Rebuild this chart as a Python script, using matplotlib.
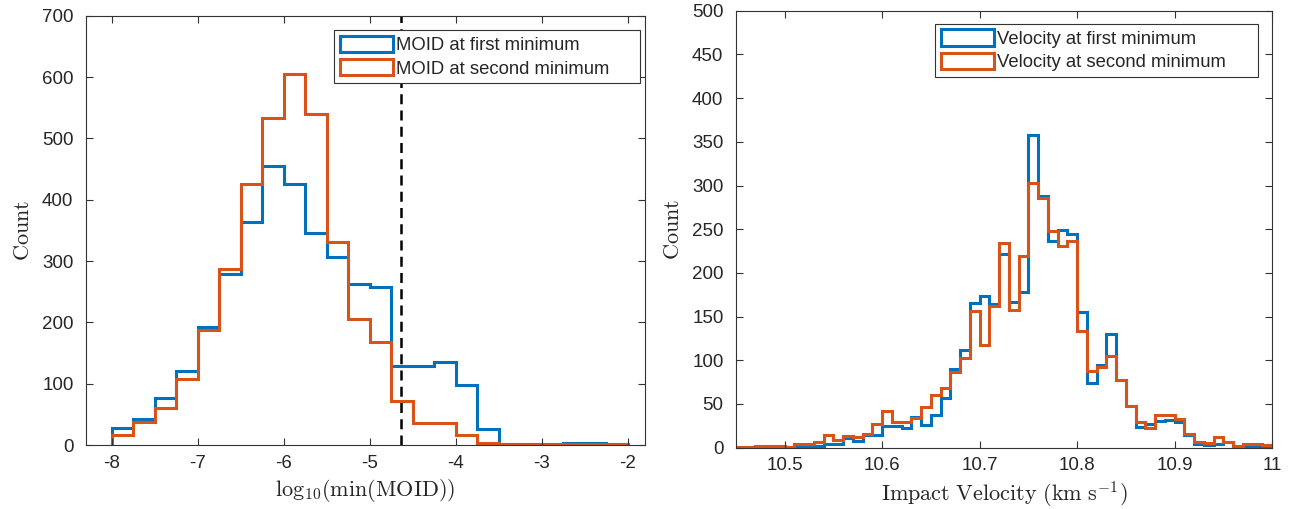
import numpy as np
import matplotlib
matplotlib.use("Agg")
import matplotlib.pyplot as plt
from matplotlib.patches import Patch

plt.rcParams['font.family'] = ['Liberation Sans', 'DejaVu Sans']
plt.rcParams['mathtext.fontset'] = 'cm'

# ---------------- data ----------------
moid_bin_start = -8.0
moid_bin_width = 0.25
moid_first = [27, 42, 76, 121, 193, 279, 363, 455, 425, 346, 306, 263,
              257, 128, 129, 135, 98, 26, 2, 1, 1, 3, 3, 1]
moid_second = [16, 38, 61, 107, 188, 287, 425, 533, 605, 540, 331, 205,
               168, 72, 36, 36, 17, 3, 1, 1, 1, 1, 1, 1]
moid_threshold = -4.643

vel_bin_start = 10.45
vel_bin_width = 0.01
vel_first = [0, 1, 0, 1, 0, 1, 1, 1, 2, 4, 4, 11, 8, 14, 14, 25, 25, 23, 35, 26,
             37, 57, 90, 112, 166, 174, 164, 222, 167, 178, 358, 288, 236, 249, 245,
             155, 74, 95, 130, 78, 48, 24, 27, 30, 32, 29, 14, 4, 3, 4, 6, 0, 2, 2, 1]
vel_second = [1, 1, 2, 2, 2, 1, 4, 4, 6, 15, 9, 13, 12, 16, 27, 42, 29, 29, 34, 46,
              60, 68, 87, 103, 156, 117, 162, 234, 158, 219, 303, 286, 248, 231, 237,
              134, 88, 92, 105, 78, 48, 29, 22, 37, 37, 33, 16, 6, 5, 12, 6, 2, 4, 4, 3]

moid_labels = ['MOID at first minimum', 'MOID at second minimum']
vel_labels = ['Velocity at first minimum', 'Velocity at second minimum']

moid_xticks = [-8, -7, -6, -5, -4, -3, -2]
moid_yticks = [0, 100, 200, 300, 400, 500, 600, 700]
vel_xticks = [10.5, 10.6, 10.7, 10.8, 10.9, 11.0]
vel_xticklabels = ['10.5', '10.6', '10.7', '10.8', '10.9', '11']
vel_yticks = list(range(0, 501, 50))

BLUE = '#0072BD'
ORANGE = '#D95319'
AXC = '#262626'
LW = 2.2
TICK_FS = 13.5
LABEL_FS = 16
LEG_FS = 13.3


def edges(start, width, n):
    return start + width * np.arange(n + 1)


fig = plt.figure(figsize=(12.96, 5.09), dpi=100)
ax1 = fig.add_axes([86 / 1296, 1 - 445 / 509, 559 / 1296, 429.3 / 509])
ax2 = fig.add_axes([736 / 1296, 1 - 447.7 / 509, 536 / 1296, 437 / 509])


def style(ax):
    for s in ax.spines.values():
        s.set_color('#333333')
        s.set_linewidth(0.8)
    ax.tick_params(direction='in', length=5, width=0.8, color='#333333',
                   labelcolor=AXC, labelsize=TICK_FS, top=True, right=True, pad=7)
    ax.tick_params(axis='y', pad=9)


def legend(ax, labels, box):
    handles = [Patch(facecolor='white', edgecolor=BLUE, lw=LW),
               Patch(facecolor='white', edgecolor=ORANGE, lw=LW)]
    leg = ax.legend(handles, labels, loc='upper left', bbox_to_anchor=box,
                    mode='expand', fontsize=LEG_FS, handlelength=2.9,
                    handleheight=1.0, handletextpad=0.15, borderpad=0.3,
                    labelspacing=0.26, borderaxespad=0.0, fancybox=False,
                    framealpha=1, edgecolor='#333333')
    leg.get_frame().set_linewidth(0.8)
    for t in leg.get_texts():
        t.set_color(AXC)


# left panel
e1 = edges(moid_bin_start, moid_bin_width, len(moid_first))
ax1.stairs(moid_first, e1, color=BLUE, lw=LW, baseline=0)
ax1.stairs(moid_second, e1, color=ORANGE, lw=LW, baseline=0)
ax1.axvline(moid_threshold, color='k', lw=1.8, ls=(0, (4, 2.5)))
ax1.set_xlim(-8.3, -1.8)
ax1.set_ylim(0, 700)
ax1.set_xticks(moid_xticks)
ax1.set_xticklabels([str(t) for t in moid_xticks])
ax1.set_yticks(moid_yticks)
style(ax1)
ax1.set_xlabel(r'$\mathrm{log}_{10}(\mathrm{min}(\mathrm{MOID}))$', fontsize=LABEL_FS,
               color=AXC, labelpad=4)
ax1.set_ylabel(r'$\mathrm{Count}$', fontsize=LABEL_FS, color=AXC, labelpad=6)
legend(ax1, moid_labels, (0.4436, 0.848, 0.5474, 0.1187))

# right panel
e2 = edges(vel_bin_start, vel_bin_width, len(vel_first))
ax2.stairs(vel_first, e2, color=BLUE, lw=LW, baseline=0)
ax2.stairs(vel_second, e2, color=ORANGE, lw=LW, baseline=0)
ax2.set_xlim(10.45, 11.0)
ax2.set_ylim(0, 500)
ax2.set_xticks(vel_xticks)
ax2.set_xticklabels(vel_xticklabels)
ax2.set_yticks(vel_yticks)
style(ax2)
ax2.set_xlabel(r'$\mathrm{Impact\ Velocity\ (km\ s^{-1})}$', fontsize=LABEL_FS,
               color=AXC, labelpad=4)
ax2.set_ylabel(r'$\mathrm{Count}$', fontsize=LABEL_FS, color=AXC, labelpad=6)
legend(ax2, vel_labels, (0.3713, 0.853, 0.6026, 0.1167))

fig.savefig('out.png', dpi=100)
